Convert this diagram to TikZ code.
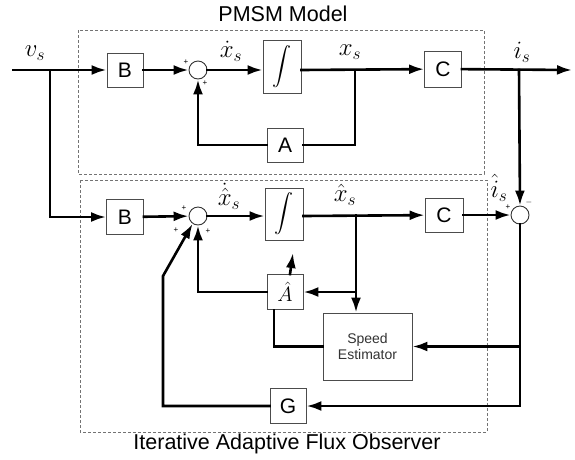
\documentclass[tikz,border=0pt]{standalone}
\usepackage{fontspec}
\setmainfont{Liberation Sans}
\usetikzlibrary{arrows.meta,calc}
\begin{document}
\begin{tikzpicture}[x=1pt,y=-1pt,
  sig/.style={line width=2.6pt,line cap=rect},
  arr/.style={sig,-{Latex[length=15pt,width=10pt]}},
  blk/.style={draw=black!70,line width=0.9pt,fill=white,inner sep=0pt,
    font=\fontsize{21}{24}\selectfont},
  sumj/.style={circle,draw=black!80,line width=0.9pt,fill=white,minimum size=18pt,inner sep=0pt},
  frame/.style={draw=black!55,line width=0.6pt,dash pattern=on 3pt off 2pt},
  lbl/.style={font=\fontsize{23}{26}\selectfont,inner sep=0pt},
  sgn/.style={font=\fontsize{8}{9}\selectfont,inner sep=0pt},
  title/.style={font=\fontsize{21.5}{24}\selectfont,inner sep=0pt},
  integ/.style={blk,minimum width=38pt}]
\useasboundingbox (0,0) rectangle (575,459);

% dashed frames
\draw[frame] (78,30) rectangle (484,174);
\draw[frame] (80,180) rectangle (487,432);
\node[title] (t1) at (283,14) {PMSM Model};
\node[title] (t2) at (287,444) {Iterative Adaptive Flux Observer};

% plant blocks
\node[blk,minimum width=36pt,minimum height=34pt] (B1) at (125,70) {B};
\node[sumj] (S1) at (198,70) {};
\node[integ,minimum height=53pt] (I1) at (282,67) {\scalebox{1.9}{$\displaystyle\int$}};
\node[blk,minimum width=36pt,minimum height=34pt] (A) at (285,145) {A};
\node[blk,minimum width=37pt,minimum height=36pt] (C1) at (443,69) {C};

% observer blocks
\node[blk,minimum width=37pt,minimum height=35pt] (B2) at (125,217) {B};
\node[sumj] (S2) at (198,216) {};
\node[integ,minimum height=52pt] (I2) at (284,214) {\scalebox{1.9}{$\displaystyle\int$}};
\node[blk,minimum width=38pt,minimum height=34pt] (C2) at (444,215) {C};
\node[sumj] (S3) at (520,215) {};
\node[blk,minimum width=36pt,minimum height=35pt] (Ah) at (285,292) {\fontsize{22}{24}\selectfont$\hat{A}$};
\node[blk,minimum width=89pt,minimum height=67pt,align=center,
  font=\fontsize{14}{16.5}\selectfont,text=black!80] (SE) at (367.5,346.5) {Speed\\Estimator};
\node[blk,minimum width=36pt,minimum height=35pt] (G) at (288,406) {G};

% free ends and branch points
\coordinate (vin) at (13,70);
\coordinate (iout) at (572,70);
\coordinate (jv) at (50,70);
\coordinate (jx) at (355,70);
\coordinate (ji) at (519,70);
\coordinate (jxh) at (356,215);
\coordinate (gk) at (163,276);

% plant signal paths
\draw[arr] (vin) -- (B1);
\draw[arr] (B1) -- (S1);
\draw[arr] (S1) -- (S1 -| I1.west);
\draw[arr] (S1 -| I1.east) -- (C1);
\draw[arr] (C1) -- (iout);
\draw[sig] (jx) |- (A.east);
\draw[arr] (A.west) -| (S1.south);

% observer signal paths
\draw[arr] (jv) |- (B2.west);
\draw[arr] (B2) -- (S2);
\draw[arr] (S2) -- (S2 -| I2.west);
\draw[arr] (S2 -| I2.east) -- (C2);
\draw[arr] (C2) -- (S3);
\draw[arr] (ji) -- (S3.north);
\draw[arr] (jxh) -- (jxh |- SE.north);
\draw[arr] (jxh |- Ah.east) -- (Ah.east);
\draw[arr] (Ah.west) -| (S2.south);
\draw[arr] ([xshift=5pt]Ah.north) -- ++(3,-21);
\draw[sig] ([xshift=-11pt]Ah.south) |- (SE.west);
\draw[sig] (S3.south) -- (S3.south |- G.east);
\draw[arr] (S3.south |- SE.east) -- (SE.east);
\draw[arr] (S3.south |- G.east) -- (G.east);
\draw[arr] (G.west) -| (gk) -- (S2.235);

% signal labels
\node[lbl] (lv) at (35,53) {$v_s$};
\node[lbl] (lxd) at (231,51) {$\dot{x}_s$};
\node[lbl] (lx) at (350,52) {$x_s$};
\node[lbl] (li) at (522,52) {$i_s$};
\node[lbl] (lxhd) at (229,196) {$\dot{\hat{x}}_s$};
\node[lbl] (lxh) at (345,195) {$\hat{x}_s$};
\node[lbl] (lih) at (499,188) {$\hat{i}_s$};

% junction signs
\node[sgn] (p1) at (186,62) {+};
\node[sgn] (p2) at (205,83) {+};
\node[sgn] (p3) at (184,208) {+};
\node[sgn] (p4) at (176,230) {+};
\node[sgn] (p5) at (208,231) {+};
\node[sgn] (p6) at (508,207) {+};
\node[sgn] (m1) at (529,202) {$-$};
\end{tikzpicture}
\end{document}
